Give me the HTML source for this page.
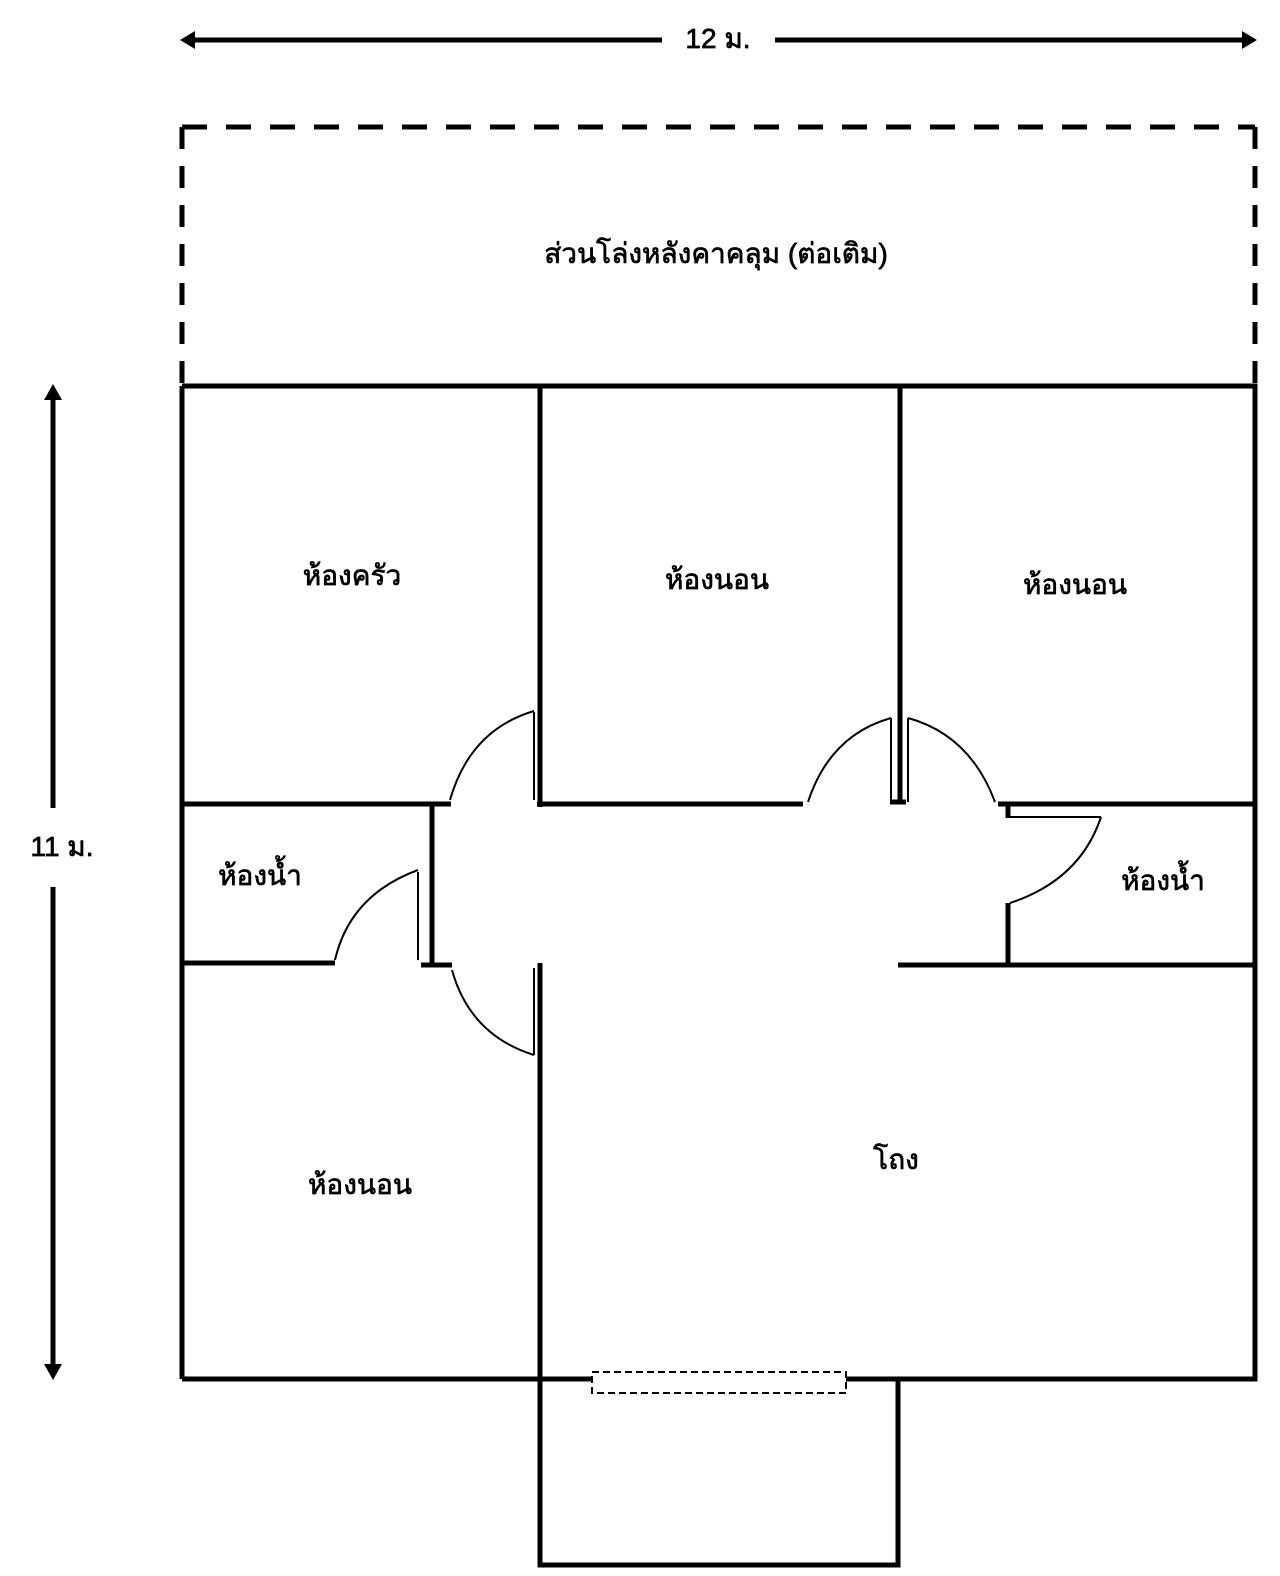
<!DOCTYPE html>
<html><head><meta charset="utf-8"><style>
html,body{margin:0;padding:0;background:#fff}
svg{display:block}
text{font-family:"Liberation Sans","DejaVu Sans",sans-serif;font-size:28px;fill:#000;stroke:#000;stroke-width:0.7}
</style></head><body>
<svg width="1280" height="1576" viewBox="0 0 1280 1576" xmlns="http://www.w3.org/2000/svg">
<g stroke="#000" fill="none" stroke-width="5">
<line x1="192" y1="40" x2="662" y2="40"/>
<line x1="775" y1="40" x2="1245" y2="40"/>
<line x1="53" y1="398" x2="53" y2="808"/>
<line x1="53" y1="887" x2="53" y2="1366"/>
<path d="M182 127 H1255" stroke-dasharray="25 19"/>
<path d="M182 127 V386 M1255 127 V386" stroke-dasharray="22 17"/>
<path d="M182 386 H1255 V1379 H846 M592 1379 H182 Z"/>
<path d="M182 386 V1379"/>
<path d="M540 1379 V1565 H898 V1379"/>
<line x1="540" y1="386" x2="540" y2="807"/>
<line x1="537" y1="804" x2="803" y2="804"/>
<line x1="900" y1="386" x2="900" y2="804"/>
<line x1="182" y1="804" x2="451" y2="804"/>
<line x1="432" y1="804" x2="432" y2="966"/>
<line x1="421" y1="965" x2="452" y2="965"/>
<line x1="182" y1="963" x2="335" y2="963"/>
<line x1="540" y1="963" x2="540" y2="1379"/>
<line x1="998" y1="804" x2="1255" y2="804"/>
<line x1="1008" y1="804" x2="1008" y2="818"/>
<line x1="1008" y1="903" x2="1008" y2="965"/>
<line x1="898" y1="965" x2="1255" y2="965"/>
<line x1="890" y1="802" x2="906" y2="802"/>
</g>
<g stroke="#000" fill="none" stroke-width="2">
<line x1="534" y1="712" x2="534" y2="800"/>
<path d="M534 711 Q470 730 450 800"/>
<line x1="534" y1="968" x2="534" y2="1055"/>
<path d="M452 970 Q470 1035 534 1055"/>
<line x1="418" y1="872" x2="418" y2="960"/>
<path d="M418 870 Q350 895 335 960"/>
<line x1="891" y1="718" x2="891" y2="802"/>
<path d="M891 718 Q830 735 808 802"/>
<line x1="908" y1="718" x2="908" y2="802"/>
<path d="M908 718 Q970 735 995 802"/>
<line x1="1010" y1="817" x2="1101" y2="817"/>
<path d="M1101 817 Q1080 880 1010 903"/>
<rect x="592" y="1372" width="254" height="21" stroke-dasharray="7 4"/>
</g>
<polygon points="180,40 195,31 195,49" fill="#000"/>
<polygon points="1257,40 1242,31 1242,49" fill="#000"/>
<polygon points="53,384 44,400 62,400" fill="#000"/>
<polygon points="53,1380 44,1364 62,1364" fill="#000"/>
<text x="718" y="48" text-anchor="middle" font-size="26">12 ม.</text>
<text x="62" y="856" text-anchor="middle" font-size="26">11 ม.</text>
<text x="716" y="263" text-anchor="middle">ส่วนโล่งหลังคาคลุม (ต่อเติม)</text>
<text x="352" y="585" text-anchor="middle">ห้องครัว</text>
<text x="717" y="589" text-anchor="middle">ห้องนอน</text>
<text x="1075" y="594" text-anchor="middle">ห้องนอน</text>
<text x="260" y="885" text-anchor="middle">ห้องน้ำ</text>
<text x="1163" y="890" text-anchor="middle">ห้องน้ำ</text>
<text x="360" y="1194" text-anchor="middle">ห้องนอน</text>
<text x="896" y="1169" text-anchor="middle">โถง</text>
</svg>
</body></html>
